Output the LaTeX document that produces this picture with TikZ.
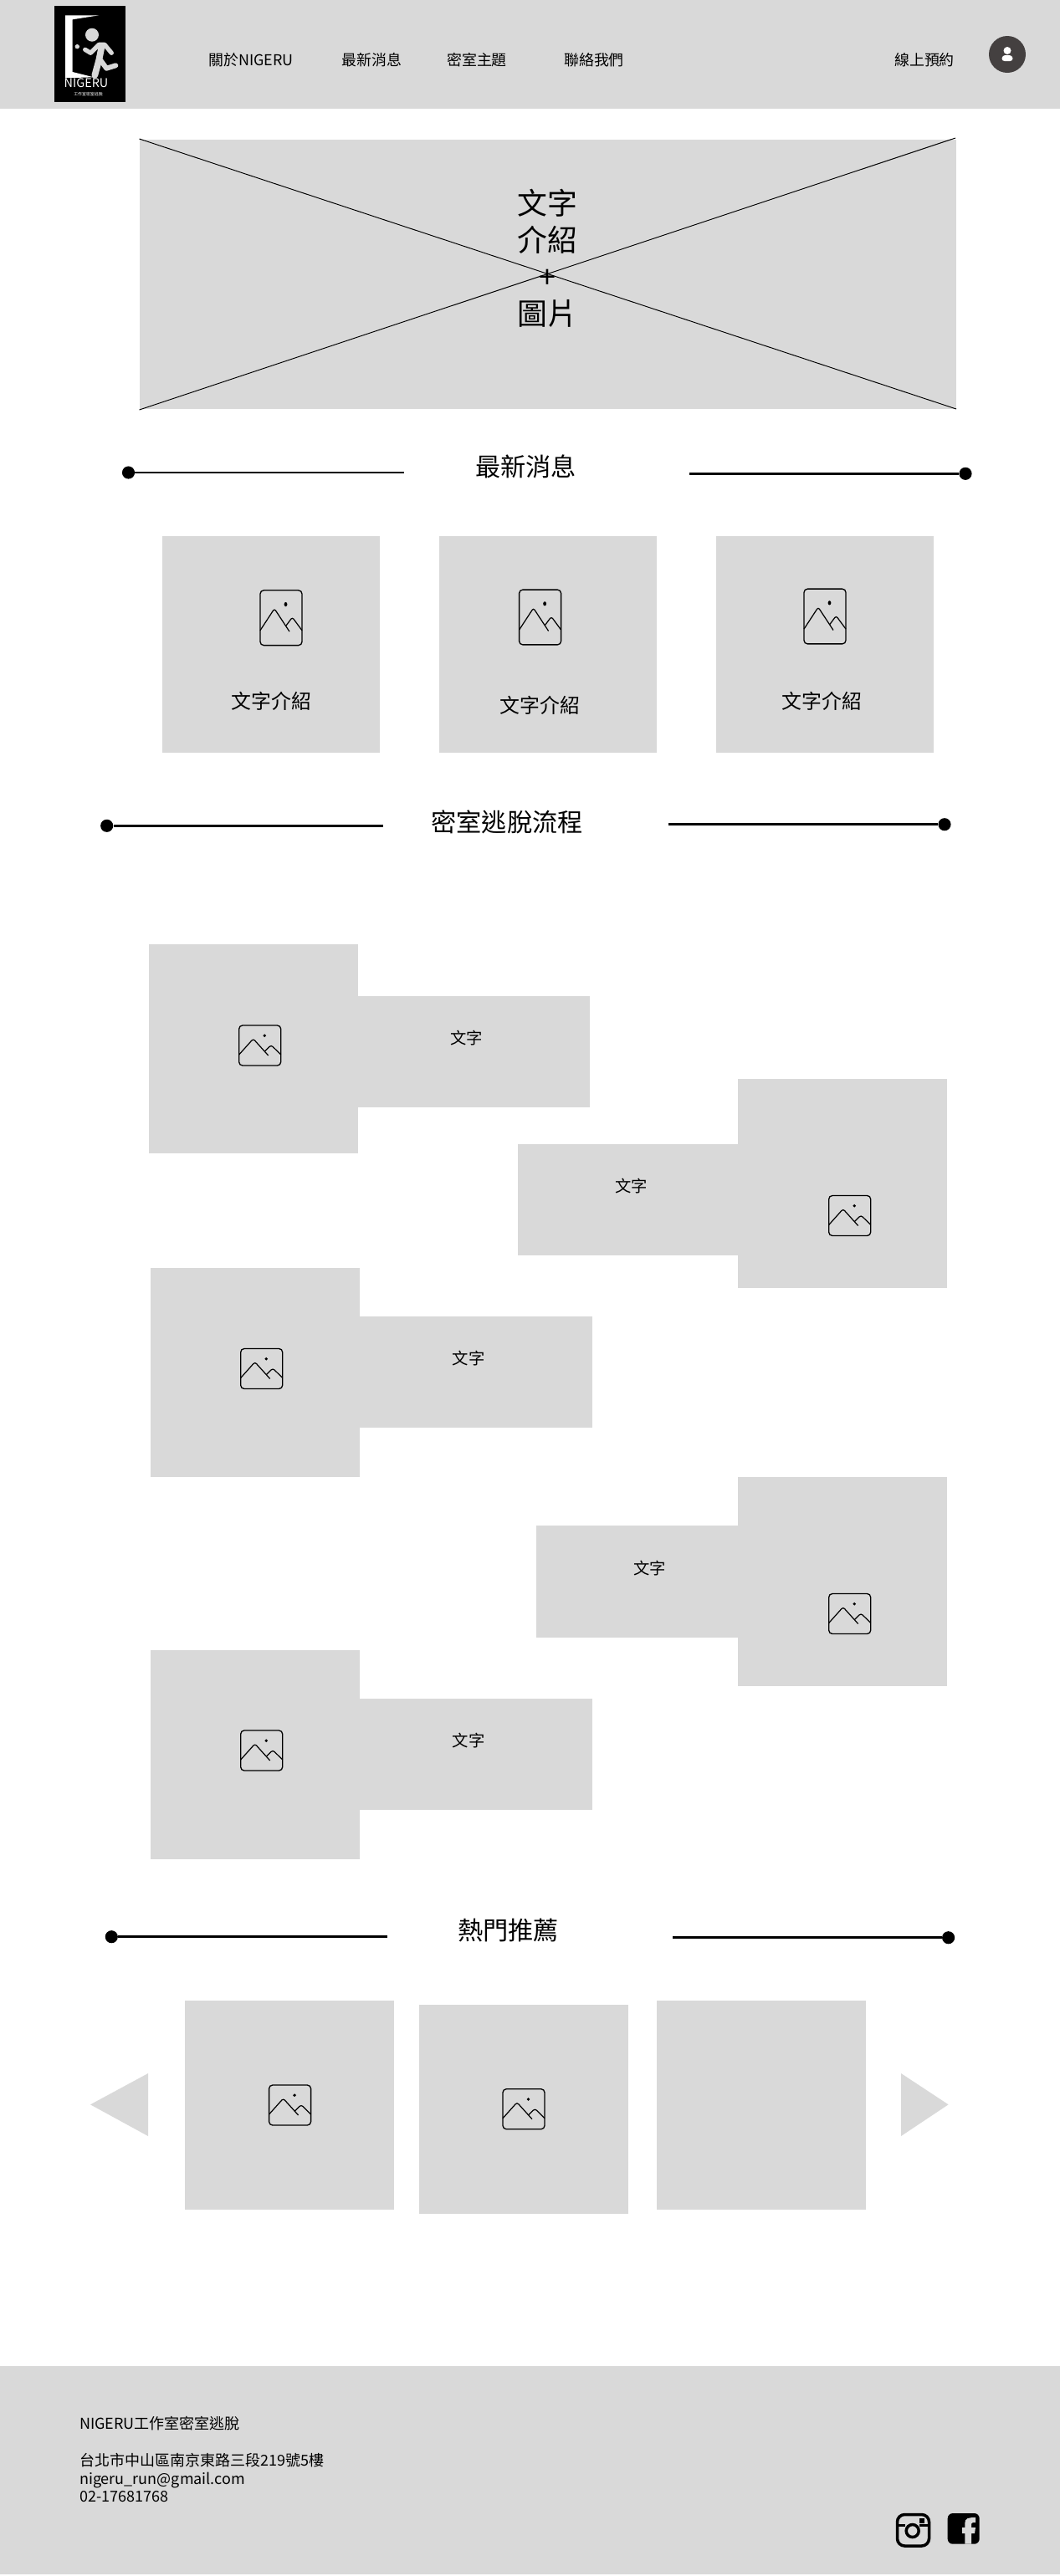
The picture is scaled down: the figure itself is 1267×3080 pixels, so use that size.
\documentclass[tikz,border=0pt]{standalone}
\usepackage{xcolor}
\usepackage{fontspec}
\setmainfont{Noto Sans CJK TC}
\usepackage{tikz}
\usetikzlibrary{calc, positioning}

\definecolor{wiregray}{HTML}{D9D9D9}
\definecolor{avatardark}{HTML}{444040}
\tikzset{
    wirebox/.style={fill=wiregray},
    navtext/.style={font=\fontsize{10.2}{12}\selectfont, inner sep=0pt},
    sectitle/.style={font=\fontsize{17.2}{20}\selectfont, inner sep=0pt},
    cardtext/.style={font=\fontsize{13.6}{16}\selectfont, inner sep=0pt},
    smalltext/.style={font=\fontsize{11}{13}\selectfont, inner sep=0pt},
    secdot/.style={circle, fill=black, minimum size=8.6pt, inner sep=0pt},
    secline/.style={line width=1.6pt},
}
% placeholder image, centred on #1,#2 and stretched by #3
\newcommand{\imgicon}[3]{
    \begin{scope}[shift={(#1,#2)}, yscale=#3]
        \draw[line width=0.75pt, rounded corners=2.4pt] (-25,-24) rectangle (25,24);
        \draw[line width=0.7pt, rounded corners=1.5pt] (-25,11) -- (-8,-8) -- (10,12);
        \draw[line width=0.7pt, rounded corners=1.5pt] (5.8,7) -- (13.4,-0.5) -- (25,11);
        \fill (5.5,-11.8) circle[radius=1.9];
    \end{scope}
}

\begin{document}
\begin{tikzpicture}[x=0.02cm, y=-0.02cm]
    \useasboundingbox (0,0) rectangle (1267,3080);
    \fill[white] (0,0) rectangle (1267,3080);

    % header
    \fill[wirebox] (0,0) rectangle (1267,130);
    \fill[black] (65,7) rectangle (149.5,122);
    \fill[white] (78,18.3) -- (118.3,18.3) -- (86.7,23.3) -- (86.7,86) -- (111.7,92.3) -- (78,93.3) -- cycle;
    \fill[wiregray] (92.3,55.7) circle[radius=2.7] (110,41.7) circle[radius=8];
    \draw[wiregray, line width=3pt, line cap=round, line join=round] (101.7,59.3) -- (108.3,63.3) -- (118.3,53.3) -- (125,53.3) -- (133.3,63.3);
    \draw[wiregray, line width=4.4pt, line cap=round, line join=round] (121.7,55) -- (118.3,71.7) -- (113.3,90);
    \draw[wiregray, line width=3.4pt, line cap=round, line join=round] (120,71.7) -- (127.3,81.7) -- (138.3,78.3);
    \node[white, inner sep=0pt, font=\fontsize{8.2}{9}\selectfont] (logoname) at (103,99) {NIGERU};
    \node[white, inner sep=0pt, font=\fontsize{2.8}{3}\selectfont] (logosub) at (105.5,113) {工作室密室逃脫};
    \foreach \nx/\ntext in {300/關於NIGERU,444.5/最新消息,570/密室主題,710/聯絡我們,1105/線上預約} {
        \node[navtext] (nav\nx) at (\nx,72) {\ntext};
    }
    \fill[avatardark] (1204,65) circle[radius=22];
    \fill[white] (1204,60.5) circle[radius=4.5];
    \fill[white, rounded corners=2pt] (1197,73) -- (1198,66) -- (1210,66) -- (1211,73) -- cycle;

    % hero
    \fill[wirebox] (166.5,167) rectangle (1143,489);
    \draw[line width=0.55pt, black] (166.5,166) -- (1143,489);
    \draw[line width=0.55pt, black] (1142,165) -- (166.5,490);
    \node[align=center, inner sep=0pt, font=\fontsize{20.4}{25}\selectfont] (heroText) at (654,309) {文字\\介紹\\+\\圖片};

    % section headings
    \foreach \sname/\dotl/\dotly/\endl/\titlex/\titley/\stitle/\startr/\dotr/\dotry in {
        news/153.5/565/483/628.6/557.7/最新消息/824/1154/566.3,
        flow/127.7/987.3/458/606/983/密室逃脫流程/799/1129/985.7,
        hot/133.3/2315.7/463/607.6/2308/熱門推薦/804/1133.6/2316.7} {
        \node[secdot] (\sname DotL) at (\dotl,\dotly) {};
        \coordinate (\sname EndL) at (\endl,\dotly);
        \draw[secline] (\sname DotL) -- (\sname EndL);
        \node[sectitle] (\sname Title) at (\titlex,\titley) {\stitle};
        \node[secdot] (\sname DotR) at (\dotr,\dotry) {};
        \coordinate (\sname StartR) at (\startr,\dotry);
        \draw[secline] (\sname StartR) -- (\sname DotR);
    }

    % news cards
    \foreach \cx/\ix/\iy/\tx/\ty in {194/336/738.7/324.3/838,525/645.6/738/645.3/843,856/986/737/982.3/838} {
        \fill[wirebox] (\cx,640.7) rectangle (\cx+260,900);
        \imgicon{\ix}{\iy}{1.37}
        \node[cardtext] (card\cx) at (\tx,\ty) {文字介紹};
    }

    % steps: box, text strip, label, image
    \foreach \bx/\by/\rxa/\rya/\rxb/\tx/\ty/\ix/\iy in {
        177.8/1129.4/427/1190.5/705.4/557.5/1241.5/310.7/1250,
        882.4/1290.4/619/1367.6/882.4/754.7/1418/1015.7/1453.5,
        180/1515.5/430/1573.5/707.8/560/1624/312.7/1636.5,
        882.4/1766/640.8/1824.2/882.4/776.5/1875/1015.7/1929.5,
        180/1972.5/430/2030.5/707.8/560/2081.5/312.7/2093} {
        \fill[wirebox] (\bx,\by) rectangle (\bx+250,\by+250);
        \fill[wirebox] (\rxa,\rya) rectangle (\rxb,\rya+133.5);
        \node[smalltext] (step\by) at (\tx,\ty) {文字};
        \imgicon{\ix}{\iy}{1}
    }

    % recommended row
    \fill[wiregray] (108,2516.3) -- (177,2479) -- (177,2554) -- cycle;
    \fill[wiregray] (1133.6,2516.3) -- (1077,2479) -- (1077,2554) -- cycle;
    \foreach \bx/\by in {221.4/2392,501/2396.7,784.6/2392} {
        \fill[wirebox] (\bx,\by) rectangle (\bx+250,\by+250);
    }
    \imgicon{346.6}{2517}{1}
    \imgicon{626}{2521.7}{1}

    % footer
    \fill[wirebox] (0,2828.5) rectangle (1267,3078);
    \node[anchor=west, align=left, inner sep=0pt, font=\fontsize{10.25}{12.5}\selectfont] (footText) at (94.8,2940.5)
        {NIGERU工作室密室逃脫\\[12.5pt]台北市中山區南京東路三段219號5樓\\nigeru\_run@gmail.com\\02-17681768};
    \draw[line width=2pt, rounded corners=5pt] (1072.5,3006.5) rectangle (1110.5,3044);
    \draw[line width=2pt] (1072.5,3019.5) -- (1082,3019.5) (1099,3019.5) -- (1110.5,3019.5);
    \draw[line width=2pt] (1090.7,3026) circle[radius=7.5];
    \fill (1099,3011) rectangle (1105,3017);
    \fill[black, rounded corners=3.5pt] (1132.7,3005) rectangle (1170.7,3041.7);
    \fill[wiregray] (1153.3,3041.7) -- (1153.3,3029) -- (1150,3029) -- (1150,3022) -- (1153.3,3022) -- (1153.3,3017)
        .. controls (1153.3,3011) and (1157,3010) .. (1166,3010) -- (1166,3016) -- (1163,3016)
        .. controls (1161,3016) and (1161,3017) .. (1161,3022) -- (1166,3022) -- (1165,3029) -- (1161,3029) -- (1161,3041.7) -- cycle;
\end{tikzpicture}
\end{document}
